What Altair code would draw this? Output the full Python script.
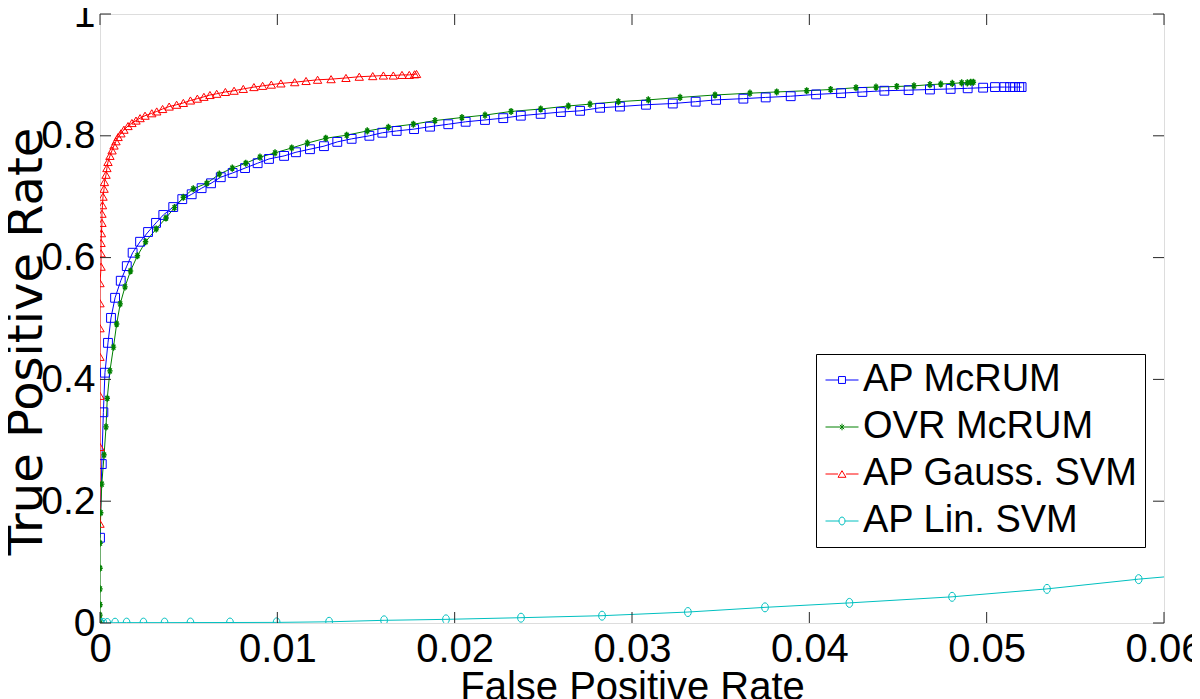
import altair as alt
import pandas as pd

# ---------------- data ----------------
series_names = ["AP McRUM", "OVR McRUM", "AP Gauss. SVM", "AP Lin. SVM"]
series_colors = ["#0000ff", "#008000", "#ff0000", "#00c0c0"]

ap_mcrum_fpr = [0, 0.0001, 0.00019, 0.00028, 0.00045, 0.00062, 0.00085, 0.00117, 0.00151, 0.00184,
                0.00226, 0.00271, 0.00316, 0.00357, 0.00413, 0.00464, 0.00517, 0.00573, 0.00626, 0.00681,
                0.00748, 0.00818, 0.00889, 0.00953, 0.01038, 0.01105, 0.01184, 0.01263, 0.01338, 0.01419,
                0.01519, 0.01592, 0.01673, 0.01771, 0.01861, 0.01964, 0.02062, 0.02171, 0.02274, 0.02373,
                0.02485, 0.02599, 0.02707, 0.0282, 0.02932, 0.03079, 0.0323, 0.03359, 0.03474, 0.03628,
                0.03754, 0.03895, 0.04038, 0.04179, 0.04299, 0.04423, 0.0456, 0.0468, 0.04797, 0.04893,
                0.0498, 0.05047, 0.051, 0.05132, 0.0516, 0.05184, 0.05197]
ap_mcrum_tpr = [0.140, 0.261, 0.346, 0.411, 0.460, 0.501, 0.534, 0.562, 0.586, 0.608,
                0.626, 0.642, 0.657, 0.670, 0.683, 0.696, 0.704, 0.714, 0.722, 0.732,
                0.739, 0.747, 0.755, 0.762, 0.767, 0.773, 0.778, 0.783, 0.790, 0.795,
                0.800, 0.805, 0.808, 0.811, 0.815, 0.819, 0.823, 0.826, 0.829, 0.833,
                0.836, 0.839, 0.841, 0.846, 0.848, 0.851, 0.853, 0.856, 0.859, 0.861,
                0.863, 0.865, 0.868, 0.870, 0.872, 0.874, 0.875, 0.876, 0.877, 0.878,
                0.879, 0.880, 0.880, 0.880, 0.880, 0.880, 0.880]

ovr_mcrum_fpr = [0, 0, 0, 0, 0, 0, 0.00004, 0.0001, 0.00023, 0.00034,
                 0.00041, 0.00056, 0.00076, 0.00094, 0.00114, 0.00141, 0.00172, 0.00211, 0.00257, 0.00317,
                 0.00372, 0.0042, 0.0047, 0.00526, 0.00602, 0.00673, 0.00746, 0.00822, 0.00902, 0.00987,
                 0.01081, 0.01169, 0.01273, 0.01391, 0.01507, 0.01626, 0.01767, 0.01889, 0.02041, 0.02171,
                 0.02318, 0.02485, 0.02641, 0.02763, 0.02923, 0.03092, 0.03271, 0.03468, 0.03665, 0.03816,
                 0.03985, 0.0412, 0.04263, 0.04376, 0.04493, 0.0459, 0.0468, 0.04741, 0.04806, 0.04859,
                 0.04891, 0.0491, 0.04925]
ovr_mcrum_tpr = [0.0, 0.013, 0.030, 0.056, 0.090, 0.131, 0.181, 0.228, 0.276, 0.322,
                 0.369, 0.414, 0.453, 0.491, 0.524, 0.552, 0.578, 0.603, 0.626, 0.647,
                 0.665, 0.682, 0.699, 0.713, 0.722, 0.737, 0.747, 0.755, 0.765, 0.772,
                 0.780, 0.788, 0.796, 0.801, 0.808, 0.814, 0.819, 0.825, 0.830, 0.834,
                 0.840, 0.844, 0.849, 0.852, 0.856, 0.859, 0.863, 0.867, 0.870, 0.872,
                 0.874, 0.876, 0.879, 0.880, 0.881, 0.882, 0.884, 0.885, 0.886, 0.887,
                 0.887, 0.888, 0.888]

gauss_svm_fpr = [0, 0, 0, 0, 0, 0, 0, 0.00006, 0.00006, 0.00006,
                 0.00008, 0.00011, 0.00011, 0.00014, 0.00017, 0.00023, 0.00025, 0.00034, 0.00039, 0.00045,
                 0.00056, 0.00068, 0.00079, 0.0009, 0.00102, 0.00118, 0.00135, 0.00158, 0.0018, 0.00203,
                 0.00226, 0.00254, 0.00292, 0.0032, 0.00353, 0.0039, 0.00432, 0.0047, 0.0051, 0.00549,
                 0.00586, 0.0062, 0.00658, 0.00707, 0.00756, 0.00808, 0.00868, 0.00917, 0.00966, 0.0102,
                 0.01098, 0.01162, 0.01227, 0.01303, 0.01387, 0.01462, 0.01538, 0.01598, 0.01654, 0.01703,
                 0.01744, 0.01774, 0.01785]
gauss_svm_tpr = [0.163, 0.289, 0.373, 0.437, 0.484, 0.525, 0.558, 0.585, 0.607, 0.624,
                 0.640, 0.657, 0.672, 0.686, 0.700, 0.713, 0.724, 0.736, 0.747, 0.757,
                 0.767, 0.776, 0.784, 0.791, 0.798, 0.804, 0.810, 0.816, 0.821, 0.825,
                 0.829, 0.833, 0.837, 0.840, 0.844, 0.848, 0.851, 0.854, 0.858, 0.861,
                 0.864, 0.867, 0.869, 0.872, 0.874, 0.877, 0.880, 0.882, 0.884, 0.886,
                 0.888, 0.890, 0.892, 0.893, 0.895, 0.897, 0.898, 0.899, 0.899, 0.900,
                 0.900, 0.901, 0.9015]

lin_svm_fpr = [0, 0.00004, 0.00019, 0.00041, 0.00085, 0.0015, 0.00245, 0.00364, 0.0051, 0.00733,
               0.00996, 0.01292, 0.01602, 0.01951, 0.02374, 0.02831, 0.03315, 0.0375, 0.04226, 0.04805,
               0.0534, 0.05857, 0.0637]
lin_svm_tpr = [0, 0, 0, 0, 0.0005, 0.0006, 0.0006, 0.0006, 0.0007, 0.0008,
               0.0010, 0.0020, 0.0044, 0.0060, 0.0087, 0.0120, 0.0180, 0.0257, 0.0330, 0.0430,
               0.0560, 0.0720, 0.0850]

x_ticks = [0, 0.01, 0.02, 0.03, 0.04, 0.05, 0.06]
y_ticks = [0, 0.2, 0.4, 0.6, 0.8, 1.0]

# ---------------- styling ----------------
FONT = "Liberation Sans"
W, H = 1064, 609
TICK = 11
FRAME = "#262626"

plot_shapes = [
    "square",
    "M-1,0H1M0,-1.3V1.3M-0.7,-0.9L0.7,0.9M-0.7,0.9L0.7,-0.9",
    "M0,-0.85L1,0.85H-1Z",
    "M0.75,0A0.75,1 0 1,1 -0.75,0A0.75,1 0 1,1 0.75,0Z",
]
plot_sizes = [78, 30, 70, 81]
plot_strokes = [1, 1.4, 1, 1]

legend_shapes = [
    "M-1,0H-0.21M0.21,0H1M-0.21,-0.21H0.21V0.21H-0.21Z",
    "M-1,0H1M0,-0.2V0.2M-0.13,-0.13L0.13,0.13M-0.13,0.13L0.13,-0.13",
    "M-1,0H-0.24M0.24,0H1M0,-0.2L0.24,0.2H-0.24Z",
    "M-1,0H-0.18M0.18,0H1M0.18,0A0.18,0.24 0 1,1 -0.18,0A0.18,0.24 0 1,1 0.18,0Z",
]

xs = [ap_mcrum_fpr, ovr_mcrum_fpr, gauss_svm_fpr, lin_svm_fpr]
ys = [ap_mcrum_tpr, ovr_mcrum_tpr, gauss_svm_tpr, lin_svm_tpr]

rows = []
for name, fx, fy in zip(series_names, xs, ys):
    for i, (a, b) in enumerate(zip(fx, fy)):
        rows.append({"series": name, "fpr": a, "tpr": b, "i": i})
df = pd.DataFrame(rows)

xscale = alt.Scale(domain=[0, 0.06], nice=False, zero=False)
yscale = alt.Scale(domain=[0, 1], nice=False, zero=False)

xaxis = alt.Axis(values=x_ticks, format=".2~f", ticks=False, domain=False, grid=False,
                 labelFont=FONT, labelFontSize=40, labelColor="black", labelPadding=6,
                 labelOverlap=False, labelFlush=False, labelBound=False,
                 title="False Positive Rate", titleFont=FONT, titleFontSize=40,
                 titleFontWeight="normal", titleColor="black",
                 titleBaseline="alphabetic", titleY=76)
yaxis = alt.Axis(values=y_ticks, format=".1~f", ticks=False, domain=False, grid=False,
                 labelFont=FONT, labelFontSize=39, labelColor="black", labelPadding=5,
                 labelOverlap=False, labelFlush=False, labelBound=False,
                 title="True Positive Rate", titleFont="DejaVu Sans", titleFontSize=48,
                 titleFontWeight="normal", titleColor="black",
                 titleBaseline="alphabetic", titleX=-59, titleY=327)


def X(field):
    return alt.X(field, scale=xscale, axis=xaxis, title="False Positive Rate")


def Y(field):
    return alt.Y(field, scale=yscale, axis=yaxis, title="True Positive Rate")


base = alt.Chart(df)
layers = []
for k, name in enumerate(series_names):
    sub = base.transform_filter(alt.datum.series == name)
    layers.append(sub.mark_line(color=series_colors[k], strokeWidth=1, clip=True).encode(
        x=X("fpr:Q"), y=Y("tpr:Q"), order="i:Q"))
for k, name in enumerate(series_names):
    sub = base.transform_filter(alt.datum.series == name)
    layers.append(sub.mark_point(color=series_colors[k], shape=plot_shapes[k], size=plot_sizes[k],
                                 filled=False, strokeWidth=plot_strokes[k], opacity=1, clip=True).encode(
        x=X("fpr:Q"), y=Y("tpr:Q")))

legend = alt.Legend(title=None, orient="none", legendX=716, legendY=340,
                    labelFont=FONT, labelFontSize=38, labelColor="black", labelLimit=500,
                    labelOffset=2, symbolSize=1089, symbolStrokeWidth=1,
                    strokeColor="black", fillColor="white", padding=7, rowPadding=9)
layers.append(base.transform_filter("datum.tpr > 5").mark_point(filled=False, opacity=1).encode(
    x=X("fpr:Q"), y=Y("tpr:Q"),
    color=alt.Color("series:N", scale=alt.Scale(domain=series_names, range=series_colors), legend=legend),
    shape=alt.Shape("series:N", scale=alt.Scale(domain=series_names, range=legend_shapes), legend=legend),
))

xt = pd.DataFrame({"fpr": x_ticks})
yt = pd.DataFrame({"tpr": y_ticks})
layers.append(alt.Chart(xt).mark_rule(color=FRAME, strokeWidth=1).encode(
    x=X("fpr:Q"), y=alt.value(H), y2=alt.value(H - TICK)))
layers.append(alt.Chart(xt).mark_rule(color=FRAME, strokeWidth=1).encode(
    x=X("fpr:Q"), y=alt.value(0), y2=alt.value(TICK)))
layers.append(alt.Chart(yt).mark_rule(color=FRAME, strokeWidth=1).encode(
    y=Y("tpr:Q"), x=alt.value(0), x2=alt.value(TICK)))
layers.append(alt.Chart(yt).mark_rule(color=FRAME, strokeWidth=1).encode(
    y=Y("tpr:Q"), x=alt.value(W), x2=alt.value(W - TICK)))

chart = alt.layer(*layers).properties(
    width=W, height=H,
    autosize=alt.AutoSizeParams(type="none"),
    padding={"left": 92, "top": 6, "right": 28, "bottom": 84},
    background="white",
).configure_view(stroke=FRAME, strokeWidth=1).configure(font=FONT)

chart.save("out.html", embed_options={"renderer": "svg", "actions": False})
